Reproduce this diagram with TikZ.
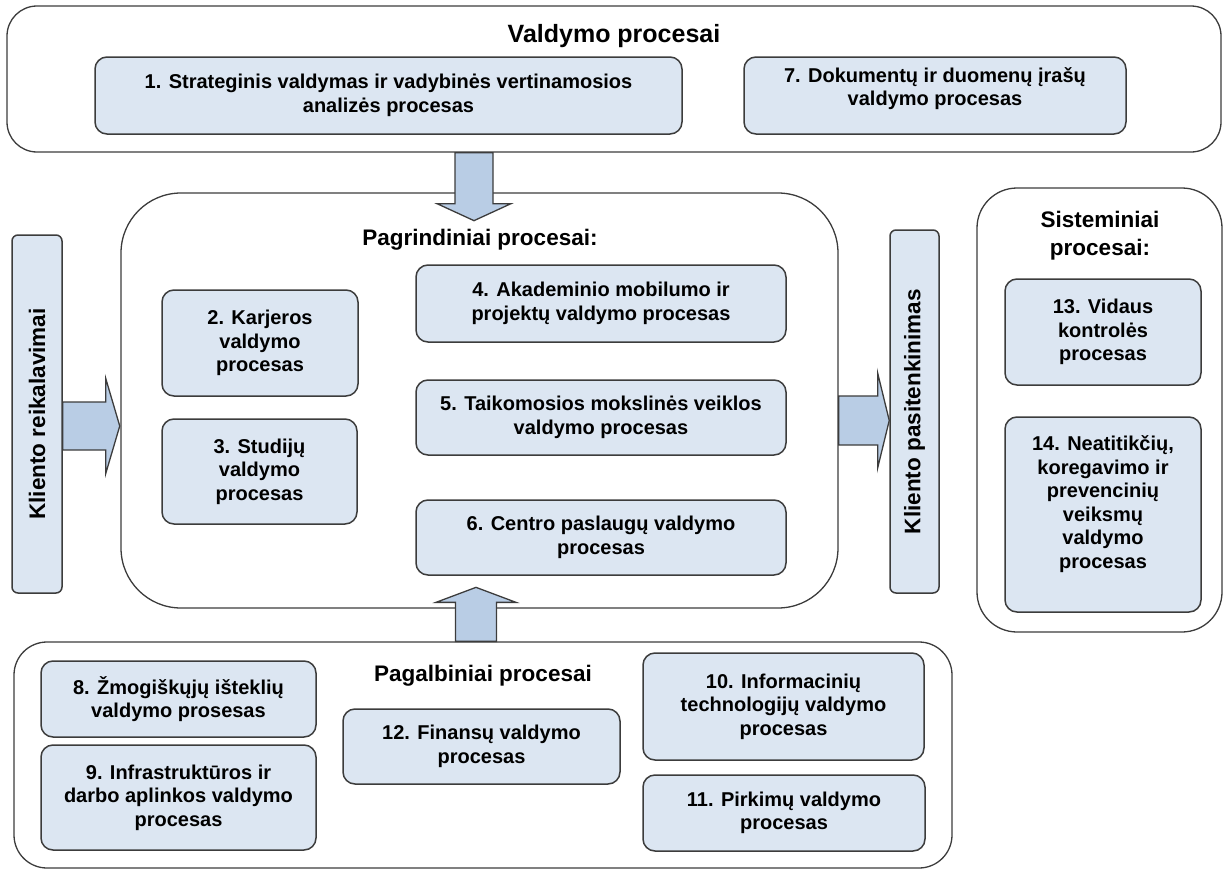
\documentclass[tikz,border=0pt]{standalone}
\usepackage{fontspec}
\setmainfont{Liberation Sans}
\usetikzlibrary{calc}
\definecolor{bord}{HTML}{3C3C3C}
\definecolor{boxfill}{HTML}{DCE6F2}
\definecolor{arrfill}{HTML}{B9CDE5}
\begin{document}
\begin{tikzpicture}[x=1pt,y=-1pt,
  container/.style={draw=bord, line width=1.3pt, fill=white, rounded corners=#1, inner sep=0pt},
  pbox/.style={draw=bord, line width=1.5pt, fill=boxfill, rounded corners=12pt, align=center,
    inner sep=0pt, font=\fontsize{20}{23.5}\selectfont\bfseries},
  boxtext/.style={align=center, inner sep=0pt, font=\fontsize{20}{23.5}\selectfont\bfseries},
  sidebox/.style={draw=bord, line width=1.5pt, fill=boxfill, rounded corners=6pt, rotate=90,
    inner sep=0pt, font=\fontsize{22.5}{27}\selectfont\bfseries},
  ttl/.style={font=\fontsize{22.5}{28}\selectfont\bfseries, align=center, inner sep=0pt},
  barr/.style={draw=bord, line width=1.3pt, fill=arrfill, line join=miter},
]
\useasboundingbox (0,0) rectangle (1229,870);

% containers
\node[container=30pt, minimum width=1214pt, minimum height=146pt] (top) at (614,79) {};
\node[container=60pt, minimum width=717pt, minimum height=415pt] (main) at (479.5,400.5) {};
\node[container=40pt, minimum width=245pt, minimum height=444pt] (sys) at (1099.5,410) {};
\node[container=33pt, minimum width=938pt, minimum height=226pt] (bot) at (483,755) {};

% titles
\node[ttl, font=\fontsize{25}{30}\selectfont\bfseries] (ttop) at (614,36) {Valdymo procesai};
\node[ttl] (tmain) at (480,240) {Pagrindiniai procesai:};
\node[ttl] (tsys) at (1100,236) {Sisteminiai\\procesai:};
\node[ttl] (tbot) at (483,676) {Pagalbiniai procesai};

% management processes
\node[pbox, minimum width=587pt, minimum height=77pt] (b1) at (388.5,95.5)
  {1. Strateginis valdymas ir vadybinės vertinamosios\\analizės procesas};
\node[pbox, minimum width=382pt, minimum height=77pt] (b7) at (935,95.5) {};
\node[boxtext] (t7) at (935,88.5) {7. Dokumentų ir duomenų įrašų\\valdymo procesas};

% main processes
\node[pbox, minimum width=196pt, minimum height=106pt] (b2) at (260,343) {2. Karjeros\\valdymo\\procesas};
\node[pbox, minimum width=195pt, minimum height=105pt] (b3) at (259.5,471.5) {3. Studijų\\valdymo\\procesas};
\node[pbox, minimum width=370pt, minimum height=77pt] (b4) at (601,303.5) {4. Akademinio mobilumo ir\\projektų valdymo procesas};
\node[pbox, minimum width=370pt, minimum height=75pt] (b5) at (601,417.5) {5. Taikomosios mokslinės veiklos\\valdymo procesas};
\node[pbox, minimum width=370pt, minimum height=75pt] (b6) at (601,537.5) {6. Centro paslaugų valdymo\\procesas};

% client boxes
\node[sidebox, minimum width=358pt, minimum height=50pt] (kr) at (37,414) {Kliento reikalavimai};
\node[sidebox, minimum width=363pt, minimum height=49pt] (kp) at (914.5,411.5) {Kliento pasitenkinimas};

% system processes
\node[pbox, minimum width=196pt, minimum height=106pt] (b13) at (1103,332) {13. Vidaus\\kontrolės\\procesas};
\node[pbox, minimum width=196pt, minimum height=195pt] (b14) at (1103,514.5) {};
\node[boxtext] (t14) at (1103,504) {14. Neatitikčių,\\koregavimo ir\\prevencinių\\veiksmų\\valdymo\\procesas};

% support processes
\node[pbox, minimum width=275pt, minimum height=76pt] (b8) at (178.5,699) {8. Žmogiškųjų išteklių\\valdymo prosesas};
\node[pbox, minimum width=275pt, minimum height=105pt] (b9) at (178.5,797.5) {9. Infrastruktūros ir\\darbo aplinkos valdymo\\procesas};
\node[pbox, minimum width=277pt, minimum height=75pt] (b12) at (481.5,746.5) {12. Finansų valdymo\\procesas};
\node[pbox, minimum width=281pt, minimum height=107pt] (b10) at (783.5,706.5) {10. Informacinių\\technologijų valdymo\\procesas};
\node[pbox, minimum width=282pt, minimum height=76pt] (b11) at (784,813) {11. Pirkimų valdymo\\procesas};

% block arrows
\coordinate (dA) at ($(top.south)+(-140,0)$);
\coordinate (dT) at ($(dA)+(0,68)$);
\draw[barr] ($(dA)+(-19,0)$) -- ($(dA)+(-19,51)$) -- ($(dA)+(-37,51)$) -- (dT)
  -- ($(dA)+(37,51)$) -- ($(dA)+(19,51)$) -- ($(dA)+(19,0)$) -- cycle;

\coordinate (uA) at ($(bot.north)+(-7,0)$);
\coordinate (uT) at ($(uA)+(0,-54)$);
\draw[barr] ($(uA)+(-20.5,0)$) -- ($(uA)+(-20.5,-39)$) -- ($(uA)+(-40,-39)$) -- (uT)
  -- ($(uA)+(40,-39)$) -- ($(uA)+(20.5,-39)$) -- ($(uA)+(20.5,0)$) -- cycle;

\coordinate (lA) at ($(kr.south)+(0,12)$);
\coordinate (lT) at ($(lA)+(57,0)$);
\draw[barr] ($(lA)+(0,-24)$) -- ($(lA)+(43,-24)$) -- ($(lA)+(43,-47.5)$) -- (lT)
  -- ($(lA)+(43,47.5)$) -- ($(lA)+(43,24)$) -- ($(lA)+(0,24)$) -- cycle;

\coordinate (rA) at ($(main.east)+(0,20)$);
\coordinate (rT) at ($(kp.north)+(0,9)$);
\draw[barr] ($(rA)+(0,-24.5)$) -- ($(rA)+(39,-24.5)$) -- ($(rA)+(39,-47.5)$) -- (rT)
  -- ($(rA)+(39,47.5)$) -- ($(rA)+(39,24.5)$) -- ($(rA)+(0,24.5)$) -- cycle;
\end{tikzpicture}
\end{document}
